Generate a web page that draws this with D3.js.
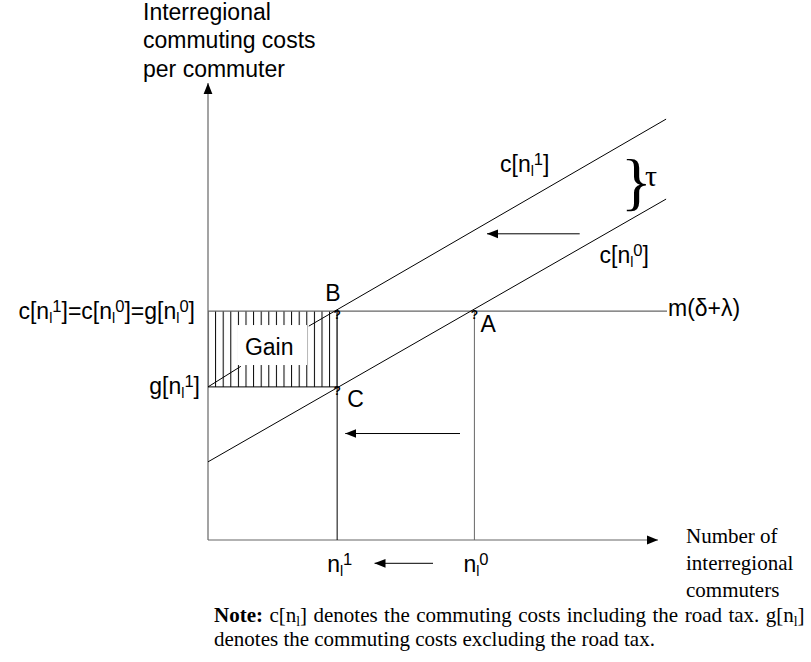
<!DOCTYPE html>
<html>
<head>
<meta charset="utf-8">
<script src="https://cdn.jsdelivr.net/npm/d3@7"></script>
<style>
  body { margin: 0; background: #fff; }
  svg { display: block; }
  .sans { font-family: "Liberation Sans", Arial, sans-serif; }
  .serif { font-family: "Liberation Serif", "Times New Roman", serif; }
</style>
</head>
<body>
<svg id="chart" width="811" height="662"></svg>
<script>
// abstract units of the diagram (x: commuters, y: cost per commuter)
const xDomain = [0, 10];
const yDomain = [0, 10];

// equilibrium commuter numbers
const nPoints = [
  { name: "n1", x: 2.87 },
  { name: "n0", x: 5.92 }
];

// cost levels
const costLevel = 5.01;   // m(δ+λ) = c[n1] = c[n0] = g[n0]
const gLevel = 3.35;      // g[n1]

// cost curves
const curveC0 = [[0, 1.71], [10.18, 7.46]];
const curveC1 = [[2.24, 4.68], [10.18, 9.21]];
const mLineEnd = 10.2;

// arrows [x1, y1, x2(tip), y2]
const arrows = [
  [8.26, 6.70, 6.20, 6.70],
  [5.60, 2.33, 3.05, 2.33],
  [5.0, -0.51, 3.70, -0.51]
];

// points marked on the chart
const markPoints = [
  { label: "B", x: 2.87, y: 5.01 },
  { label: "C", x: 2.87, y: 3.35 },
  { label: "A", x: 5.92, y: 5.01 }
];

const svg = d3.select("#chart");
const margin = { left: 208, right: 153, top: 83, bottom: 122 };
const x = d3.scaleLinear().domain(xDomain).range([margin.left, 811 - margin.right]);
const y = d3.scaleLinear().domain(yDomain).range([662 - margin.bottom, margin.top]);
const fs = 23;

const defs = svg.append("defs");
defs.append("marker")
  .attr("id", "arrow")
  .attr("viewBox", "0 0 10 10")
  .attr("refX", 10).attr("refY", 5)
  .attr("markerWidth", 11).attr("markerHeight", 11)
  .attr("markerUnits", "userSpaceOnUse")
  .attr("orient", "auto")
  .append("path").attr("d", "M0,1 L10,5 L0,9 Z").attr("fill", "#000");

defs.append("pattern")
  .attr("id", "hatch")
  .attr("patternUnits", "userSpaceOnUse")
  .attr("x", x(0) - 0.5).attr("y", 0)
  .attr("width", 7.6).attr("height", 10)
  .append("line")
  .attr("x1", 0.5).attr("y1", 0).attr("x2", 0.5).attr("y2", 10)
  .attr("stroke", "#000").attr("stroke-width", 1);

// Gain area
svg.append("rect")
  .attr("x", x(0)).attr("y", y(costLevel))
  .attr("width", x(nPoints[0].x) - x(0))
  .attr("height", y(gLevel) - y(costLevel))
  .attr("fill", "url(#hatch)");
svg.append("rect")
  .attr("x", x(0.65)).attr("y", y(costLevel) + 14)
  .attr("width", x(2.2) - x(0.65)).attr("height", 40)
  .attr("fill", "#fff");

// axes
svg.append("line")
  .attr("x1", x(0)).attr("y1", y(0)).attr("x2", x(0)).attr("y2", y(10))
  .attr("stroke", "#666").attr("stroke-width", 1.2)
  .attr("marker-end", "url(#arrow)");
svg.append("line")
  .attr("x1", x(0)).attr("y1", y(0)).attr("x2", x(10)).attr("y2", y(0))
  .attr("stroke", "#666").attr("stroke-width", 1.2)
  .attr("marker-end", "url(#arrow)");

// horizontal cost level lines
svg.append("line")
  .attr("x1", x(0)).attr("y1", y(costLevel)).attr("x2", x(mLineEnd)).attr("y2", y(costLevel))
  .attr("stroke", "#666").attr("stroke-width", 1.2);
svg.append("line")
  .attr("x1", x(0)).attr("y1", y(gLevel)).attr("x2", x(nPoints[0].x)).attr("y2", y(gLevel))
  .attr("stroke", "#000").attr("stroke-width", 1);

// vertical lines at n1 and n0
svg.selectAll(".vline")
  .data(nPoints)
  .join("line")
  .attr("class", "vline")
  .attr("x1", d => x(d.x)).attr("x2", d => x(d.x))
  .attr("y1", y(0))
  .attr("y2", y(costLevel))
  .attr("stroke", (d, i) => i === 0 ? "#000" : "#666")
  .attr("stroke-width", 1);

// cost curves
const line = d3.line().x(d => x(d[0])).y(d => y(d[1]));
svg.selectAll(".curve")
  .data([curveC0, curveC1])
  .join("path")
  .attr("class", "curve")
  .attr("d", line)
  .attr("fill", "none")
  .attr("stroke", "#000").attr("stroke-width", 1);

// leader from g[n1] to Gain
svg.append("line")
  .attr("x1", x(0)).attr("y1", y(gLevel))
  .attr("x2", x(0.73)).attr("y2", y(3.8))
  .attr("stroke", "#000").attr("stroke-width", 1);

// arrows
svg.selectAll(".arr")
  .data(arrows)
  .join("line")
  .attr("class", "arr")
  .attr("x1", d => x(d[0])).attr("y1", d => y(d[1]))
  .attr("x2", d => x(d[2])).attr("y2", d => y(d[3]))
  .attr("stroke", "#000").attr("stroke-width", 1)
  .attr("marker-end", "url(#arrow)");

// point markers ("?" glyphs as in the original)
svg.selectAll(".mark")
  .data(markPoints)
  .join("text")
  .attr("class", "mark sans")
  .attr("x", d => x(d.x)).attr("y", d => y(d.y) + 8)
  .attr("text-anchor", "middle")
  .attr("font-size", 12)
  .attr("font-weight", "bold")
  .text("?");

// point labels
const labelOffsets = { B: [-12, -10], C: [10, 20], A: [6, 21] };
svg.selectAll(".plabel")
  .data(markPoints)
  .join("text")
  .attr("class", "plabel sans")
  .attr("x", d => x(d.x) + labelOffsets[d.label][0])
  .attr("y", d => y(d.y) + labelOffsets[d.label][1])
  .attr("font-size", fs)
  .text(d => d.label);

// helper for c[n_l^k] style labels
function subSup(sel, parts) {
  parts.forEach(p => {
    const t = sel.append("tspan").text(p.t);
    if (p.sub) t.attr("font-size", "62%").attr("baseline-shift", "-28%");
    if (p.sup) t.attr("font-size", "72%").attr("baseline-shift", "42%");
  });
  return sel;
}
const nl = k => [{ t: "n" }, { t: "l", sub: true }, { t: k, sup: true }];

function label(xp, yp, parts, anchor) {
  const t = svg.append("text").attr("class", "sans")
    .attr("x", xp).attr("y", yp).attr("font-size", fs)
    .attr("text-anchor", anchor || "start");
  return subSup(t, parts);
}

label(195, y(costLevel) + 8, [
  { t: "c[" }, ...nl("1"), { t: "]=c[" }, ...nl("0"), { t: "]=g[" }, ...nl("0"), { t: "]" }
], "end");
label(200, y(gLevel) + 7, [{ t: "g[" }, ...nl("1"), { t: "]" }], "end");
label(x(0.82), y(costLevel) + 44, [{ t: "Gain" }]);
label(x(6.4) + 4, y(8.05), [{ t: "c[" }, ...nl("1"), { t: "]" }]);
label(x(8.7), y(6.07), [{ t: "c[" }, ...nl("0"), { t: "]" }]);
label(x(mLineEnd) + 1, y(costLevel) + 5, [{ t: "m(δ+λ)" }]);
label(x(nPoints[0].x) - 10, y(0) + 32, nl("1"));
label(x(nPoints[1].x) - 11, y(0) + 32, nl("0"));

// tau brace
svg.append("text").attr("class", "serif")
  .attr("x", 621).attr("y", 203)
  .attr("font-size", 64)
  .text("}");
svg.append("text").attr("class", "serif")
  .attr("x", 645).attr("y", 186)
  .attr("font-size", 30)
  .text("τ");

// axis titles
const yTitle = ["Interregional", "commuting costs", "per commuter"];
svg.selectAll(".ytitle")
  .data(yTitle)
  .join("text")
  .attr("class", "ytitle sans")
  .attr("x", 143).attr("y", (d, i) => 20 + i * 28.4)
  .attr("font-size", fs)
  .text(d => d);

const xTitle = ["Number of", "interregional", "commuters"];
svg.selectAll(".xtitle")
  .data(xTitle)
  .join("text")
  .attr("class", "xtitle serif")
  .attr("x", 686).attr("y", (d, i) => 543 + i * 27)
  .attr("font-size", 21)
  .text(d => d);

// note
const note = svg.append("text").attr("class", "serif").attr("font-size", 21);
const n1 = note.append("tspan").attr("x", 214).attr("y", 622).attr("word-spacing", 1.2);
n1.append("tspan").attr("font-weight", "bold").text("Note:");
n1.append("tspan").text(" c[n");
n1.append("tspan").attr("font-size", "65%").attr("baseline-shift", "-25%").text("l");
n1.append("tspan").text("] denotes the commuting costs including the road tax. g[n");
n1.append("tspan").attr("font-size", "65%").attr("baseline-shift", "-25%").text("l");
n1.append("tspan").text("]");
note.append("tspan").attr("x", 214).attr("y", 646)
  .text("denotes the commuting costs excluding the road tax.");
</script>
</body>
</html>
